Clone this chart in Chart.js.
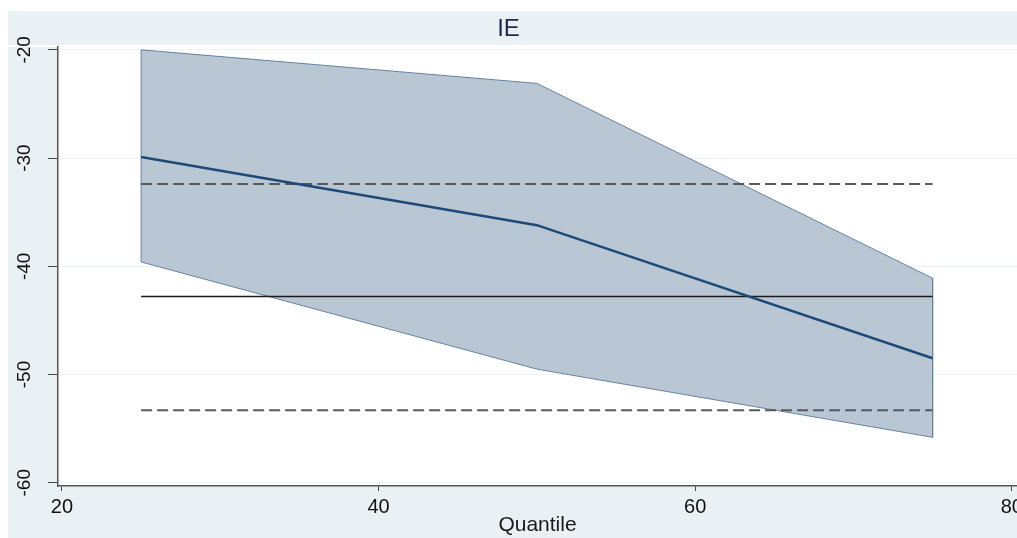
<!DOCTYPE html>
<html>
<head>
<meta charset="utf-8">
<script src="https://cdn.jsdelivr.net/npm/chart.js@4.4.1/dist/chart.umd.min.js"></script>
<style>
  body { margin: 0; background: #fff; }
  #wrap { width: 1017px; height: 538px; }
</style>
</head>
<body>
<div id="wrap"><canvas id="ie" width="1017" height="538"></canvas></div>
<script>
// quantiles and estimates
const quantiles = [25, 50, 75]
const estimate = [-29.9, -36.2, -48.5]
const upperCI = [-20.0, -23.1, -41.1]
const lowerCI = [-39.6, -49.5, -55.8]
const avgEffect = -42.8
const avgUpper = -32.4
const avgLower = -53.3
const xTicks = [20, 40, 60, 80]
const yTicks = [-20, -30, -40, -50, -60]

const FONT = "'Liberation Sans', Arial, sans-serif"
const BG = '#eaf1f4'

// closed band: upper edge left to right, then lower edge back
const band = quantiles.map((q, i) => ({ x: q, y: upperCI[i] }))
  .concat(quantiles.slice().reverse().map((q, i) => ({ x: q, y: lowerCI[lowerCI.length - 1 - i] })))
band.push({ x: quantiles[0], y: upperCI[0] })

const flat = v => [{ x: quantiles[0], y: v }, { x: quantiles[quantiles.length - 1], y: v }]

const backdrop = {
  id: 'backdrop',
  beforeDraw(chart) {
    const { ctx, chartArea: a } = chart
    ctx.save()
    ctx.fillStyle = '#fff'
    ctx.fillRect(0, 0, chart.width, chart.height)
    ctx.fillStyle = BG
    ctx.fillRect(8, 11, chart.width - 8, chart.height - 11)
    ctx.fillStyle = '#fff'
    ctx.fillRect(8, 45, chart.width - 8, 2)
    ctx.fillRect(a.left, a.top, a.right - a.left, a.bottom - a.top)
    ctx.restore()
  }
}

new Chart(document.getElementById('ie'), {
  type: 'line',
  data: {
    datasets: [
      {
        label: 'CI',
        data: band,
        borderColor: '#67829e',
        borderWidth: 1,
        backgroundColor: '#b9c7d4',
        fill: 'shape',
        pointRadius: 0,
        tension: 0,
        order: 10,
      },
      {
        label: 'avg upper',
        data: flat(avgUpper),
        borderColor: '#595959',
        borderWidth: 2,
        borderDash: [11, 5],
        pointRadius: 0,
        fill: false,
        order: 3,
      },
      {
        label: 'avg lower',
        data: flat(avgLower),
        borderColor: '#595959',
        borderWidth: 2,
        borderDash: [11, 5],
        pointRadius: 0,
        fill: false,
        order: 3,
      },
      {
        label: 'avg',
        data: flat(avgEffect),
        borderColor: '#1a1a1a',
        borderWidth: 1.5,
        pointRadius: 0,
        fill: false,
        order: 2,
      },
      {
        label: 'IE',
        data: quantiles.map((q, i) => ({ x: q, y: estimate[i] })),
        borderColor: '#1d4a77',
        borderWidth: 2.5,
        pointRadius: 0,
        fill: false,
        order: 1,
      },
    ],
  },
  options: {
    responsive: false,
    animation: false,
    layout: { padding: 0 },
    plugins: {
      legend: { display: false },
      tooltip: { enabled: false },
      title: {
        display: true,
        text: 'IE',
        color: '#1e2b4a',
        font: { family: FONT, size: 24, weight: 'normal' },
        padding: { top: 15, bottom: 3 },
      },
    },
    scales: {
      x: {
        type: 'linear',
        min: 19.75,
        max: 80.33,
        afterBuildTicks: s => { s.ticks = xTicks.map(v => ({ value: v })) },
        afterFit: s => { s.height = 52; s.paddingLeft = 0; s.paddingRight = 0 },
        grid: { drawOnChartArea: false, tickLength: 5, tickColor: '#444' },
        border: { color: '#555', width: 1.5 },
        ticks: {
          color: '#111',
          padding: 4,
          maxRotation: 0,
          font: { family: FONT, size: 20 },
        },
        title: {
          display: true,
          text: 'Quantile',
          color: '#1a1a1a',
          font: { family: FONT, size: 21 },
          padding: { top: 0, bottom: 0 },
        },
      },
      y: {
        type: 'linear',
        min: -60.3,
        max: -19.72,
        afterBuildTicks: s => { s.ticks = yTicks.map(v => ({ value: v })) },
        afterFit: s => { s.width = 58; s.paddingTop = 0; s.paddingBottom = 0 },
        grid: { color: '#edf2f4', lineWidth: 1, tickLength: 10, tickColor: '#444' },
        border: { color: '#555', width: 1.5 },
        ticks: {
          color: '#111',
          padding: 10,
          minRotation: 90,
          maxRotation: 90,
          crossAlign: 'center',
          font: { family: FONT, size: 19 },
        },
      },
    },
  },
  plugins: [backdrop],
})
</script>
</body>
</html>
